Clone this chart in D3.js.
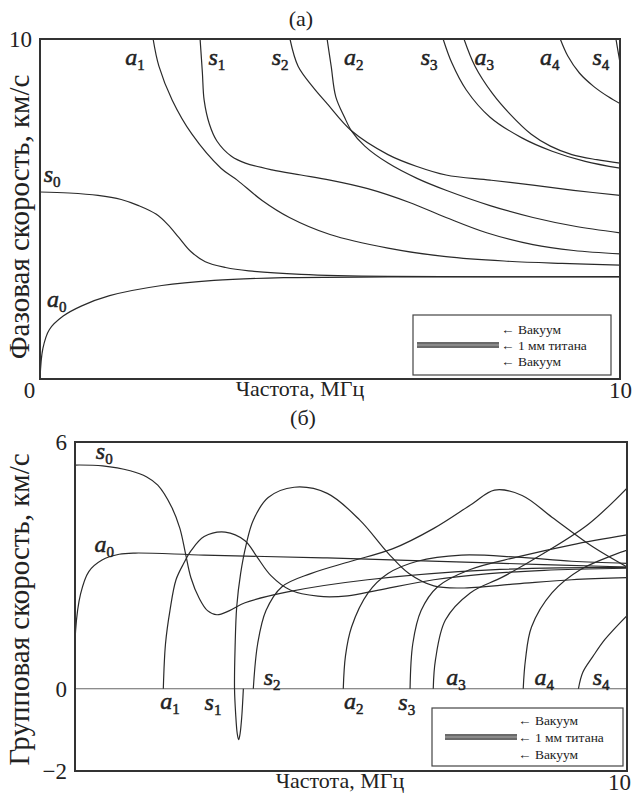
<!DOCTYPE html>
<html>
<head>
<meta charset="utf-8">
<script src="https://cdn.jsdelivr.net/npm/d3@7"></script>
<style>
  body { margin: 0; background: #fff; }
  svg text { font-family: "Liberation Serif", "DejaVu Serif", serif; fill: #222; }
</style>
</head>
<body>
<svg id="chart" width="641" height="801"></svg>
<script>
// ---- phase velocity (a), km/s vs MHz ----
const phA0 = [[0,0],[0.05,0.9],[0.16,1.45],[0.4,1.85],[0.72,2.15],[1.2,2.45],[2.1,2.75],[3,2.9],[4.2,2.98],[6,3.0],[10,3.0]]
const phS0 = [[0,5.5],[0.5,5.47],[1,5.4],[1.4,5.28],[1.7,5.1],[2.0,4.85],[2.2,4.55],[2.4,4.15],[2.6,3.75],[2.85,3.45],[3.2,3.28],[3.6,3.18],[4.5,3.08],[6,3.02],[10,3.01]]
const phA1 = [[1.95,10],[2.05,9.2],[2.28,8.2],[2.62,7.2],[3.12,6.2],[3.4,5.85],[3.83,5.25],[4.3,4.75],[5,4.25],[6,3.85],[7,3.6],[8,3.47],[9,3.4],[10,3.35]]
const phS1 = [[2.76,10],[2.8,9],[2.83,8.2],[2.92,7.5],[3.05,7.0],[3.3,6.55],[3.54,6.35],[4.0,6.15],[4.5,6.0],[5.0,5.85],[5.65,5.6],[6.36,5.2],[7,4.75],[7.7,4.3],[8.5,3.95],[9.2,3.78],[10,3.68]]
const phS2 = [[4.31,10],[4.45,9.2],[4.7,8.6],[4.95,8.1],[5.37,7.3],[6.0,6.6],[6.5,6.25],[7,6.0],[7.76,5.85],[8.5,5.7],[9.2,5.55],[10,5.4]]
const phA2 = [[4.95,10],[5.02,9.2],[5.1,8.3],[5.25,7.7],[5.37,7.3],[5.6,6.85],[6.0,6.35],[6.5,5.9],[7,5.55],[7.76,5.1],[8.5,4.75],[9.2,4.5],[10,4.3]]
const phS3 = [[6.95,10],[7.1,9.3],[7.35,8.5],[7.76,7.7],[8.3,7.1],[8.83,6.7],[9.4,6.4],[10,6.2]]
const phA3 = [[7.31,10],[7.5,9.2],[7.8,8.4],[8.1,7.8],[8.47,7.2],[8.8,6.85],[9.17,6.6],[9.6,6.45],[10,6.35]]
const phA4 = [[8.97,10],[9.1,9.5],[9.3,9.0],[9.55,8.6],[9.8,8.3],[10,8.1]]
const phS4 = [[9.93,10],[9.97,9.6],[10,9.3]]

// ---- group velocity (б) ----
const grS0 = [[0,5.44],[0.5,5.42],[1.0,5.3],[1.3,5.15],[1.5,4.95],[1.75,4.42],[1.9,3.9],[2.0,3.3],[2.1,2.7],[2.25,2.2],[2.4,1.9],[2.57,1.8],[2.8,1.9],[3.08,2.09],[3.83,2.35],[5.3,2.65],[7.53,2.89],[10,2.95]]
const grA0 = [[0,0],[0.01,1.4],[0.1,2.3],[0.25,2.85],[0.49,3.13],[0.8,3.27],[1.09,3.3],[2.34,3.25],[4.57,3.18],[7.5,3.06],[10,2.96]]
const grA1 = [[1.6,0],[1.64,1.1],[1.72,1.9],[1.83,2.65],[1.97,3.05],[2.1,3.35],[2.34,3.7],[2.72,3.81],[3.08,3.6],[3.3,3.2],[3.55,2.75],[3.9,2.4],[4.4,2.25],[4.94,2.26],[5.5,2.4],[6.5,2.65],[7.5,2.8],[8.5,2.88],[10,2.93]]
const grS1 = [[3.05,0],[3.02,-0.7],[2.99,-1.1],[2.965,-1.24],[2.94,-1.1],[2.91,-0.6],[2.89,0],[2.9,1.0],[2.93,2.0],[3.0,2.8],[3.1,3.5],[3.23,4.1],[3.5,4.65],[3.97,4.9],[4.57,4.75],[5.16,4.1],[5.67,3.3],[6.05,2.8],[6.5,2.5],[7,2.45],[8,2.55],[9,2.65],[10,2.7]]
const grS2 = [[3.23,0],[3.31,1.1],[3.46,1.9],[3.75,2.48],[4.27,2.8],[5,3.1],[5.75,3.4],[6.5,3.9],[7.2,4.5],[7.6,4.83],[8.1,4.7],[8.64,4.17],[9.38,3.45],[10,2.96]]
const grA2 = [[4.86,0],[4.9,0.8],[5.01,1.5],[5.31,2.33],[5.67,2.8],[6.2,3.1],[7,3.25],[8,3.2],[9,3.1],[10,3.05]]
const grS3 = [[6.07,0],[6.12,1.1],[6.27,1.9],[6.57,2.48],[7.16,2.9],[8,3.2],[9,3.5],[10,3.74]]
const grA3 = [[6.49,0],[6.53,0.7],[6.71,1.67],[7.16,2.33],[7.75,2.72],[8.5,3.3],[9.3,4.0],[10,4.88]]
const grA4 = [[8.12,0],[8.16,0.7],[8.27,1.5],[8.64,2.33],[9.16,2.9],[10,3.37]]
const grS4 = [[9.12,0],[9.2,0.4],[9.38,0.78],[9.6,1.2],[10,1.78]]

// mode labels: name, index, anchor (MHz, km/s)
const phLabels = [['a',1,1.64,9.44],['s',1,3.05,9.44],['s',2,4.14,9.44],['a',2,5.41,9.44],['s',3,6.71,9.44],['a',3,7.66,9.44],['a',4,8.79,9.44],['s',4,9.67,9.44],['s',0,0.21,6.0],['a',0,0.29,2.32]]
const grLabels = [['s',0,0.53,5.75],['a',0,0.53,3.5],['a',1,1.72,-0.32],['s',1,2.5,-0.34],['s',2,3.57,0.27],['a',2,5.05,-0.32],['s',3,6.01,-0.34],['a',3,6.9,0.27],['a',4,8.5,0.27],['s',4,9.53,0.27]]

const legendLines = ['Вакуум', '1 мм титана', 'Вакуум']

const svg = d3.select('#chart')

const drawPanel = function (cfg) {
    const x = d3.scaleLinear().domain([0, 10]).range([cfg.left, cfg.right])
    const y = d3.scaleLinear().domain(cfg.yDomain).range([cfg.bottom, cfg.top])
    const g = svg.append('g')

    const clipId = 'clip' + cfg.id
    g.append('clipPath').attr('id', clipId)
      .append('rect').attr('x', cfg.left).attr('y', cfg.top)
      .attr('width', cfg.right - cfg.left).attr('height', cfg.bottom - cfg.top)

    if (cfg.zeroLine) {
        g.append('line')
          .attr('x1', cfg.left).attr('x2', cfg.right)
          .attr('y1', y(0)).attr('y2', y(0))
          .attr('stroke', '#666').attr('stroke-width', 1)
    }

    const line = d3.line()
      .x(d => x(d[0])).y(d => y(d[1]))
      .curve(d3.curveCatmullRom.alpha(0.5))

    g.append('g').attr('clip-path', `url(#${clipId})`)
      .selectAll('path').data(cfg.curves).join('path')
      .attr('d', line)
      .attr('fill', 'none').attr('stroke', '#2a2a2a').attr('stroke-width', 1.2)

    // frame
    g.append('rect')
      .attr('x', cfg.left).attr('y', cfg.top)
      .attr('width', cfg.right - cfg.left).attr('height', cfg.bottom - cfg.top)
      .attr('fill', 'none').attr('stroke', '#333').attr('stroke-width', 2)

    // y ticks
    const yAx = g.append('g').attr('transform', `translate(${cfg.left},0)`)
      .call(d3.axisLeft(y).tickValues(cfg.yTicks).tickSize(0).tickPadding(8)
        .tickFormat(d => d < 0 ? '\u2212' + Math.abs(d) : d))
    yAx.select('.domain').remove()
    yAx.selectAll('text').attr('font-size', 23).attr('font-family', '"Liberation Serif", serif')
      .attr('fill', '#222')

    // x ticks
    const xAx = g.append('g').attr('transform', `translate(0,${cfg.bottom})`)
      .call(d3.axisBottom(x).tickValues(cfg.xTicks).tickSize(0).tickPadding(3))
    xAx.select('.domain').remove()
    xAx.selectAll('text').attr('font-size', 23).attr('font-family', '"Liberation Serif", serif')
      .attr('fill', '#222')
      .attr('dx', d => d === 0 ? -11 : cfg.xTickShift)

    // axis titles
    g.append('text')
      .attr('x', cfg.xTitleX).attr('y', cfg.bottom + 17)
      .attr('text-anchor', 'middle').attr('font-size', 22)
      .text('Частота, МГц')
    g.append('text')
      .attr('transform', `translate(${cfg.yTitleX},${(cfg.top + cfg.bottom) / 2 + cfg.yTitleShift}) rotate(-90)`)
      .attr('text-anchor', 'middle').attr('font-size', 29)
      .text(cfg.yTitle)
    g.append('text')
      .attr('x', cfg.panelX).attr('y', cfg.panelY)
      .attr('text-anchor', 'middle').attr('font-size', 22)
      .text(cfg.panel)

    // mode labels
    const lab = g.selectAll('.mode').data(cfg.labels).join('text')
      .attr('class', 'mode')
      .attr('x', d => x(d[2])).attr('y', d => y(d[3]))
      .attr('dy', '0.3em')
      .attr('text-anchor', 'middle')
      .attr('font-size', 24).attr('font-style', 'italic')
      .attr('stroke', '#222').attr('stroke-width', 0.5)
    lab.append('tspan').text(d => d[0])
    lab.append('tspan').attr('font-size', 15).attr('font-style', 'normal')
      .attr('dy', 5).text(d => d[1])

    // legend: plate sketch
    const L = cfg.legend
    const lg = g.append('g').attr('transform', `translate(${L.x},${L.y})`)
    lg.append('rect').attr('width', L.w).attr('height', L.h)
      .attr('fill', '#fff').attr('stroke', '#444').attr('stroke-width', 1.2)
    lg.append('rect').attr('x', L.barX).attr('y', L.h / 2 - 3)
      .attr('width', L.barW).attr('height', 6).attr('fill', '#6a6a6a')
    lg.append('line').attr('x1', L.barX).attr('x2', L.barX + L.barW)
      .attr('y1', L.h / 2).attr('y2', L.h / 2).attr('stroke', '#aaa').attr('stroke-width', 1)
    lg.selectAll('.lt').data(legendLines).join('text')
      .attr('class', 'lt')
      .attr('x', L.textX).attr('y', (d, i) => L.h / 2 + (i - 1) * L.step)
      .attr('dy', '0.35em').attr('font-size', 13.5)
      .text(d => '\u2190 ' + d)
}

drawPanel({
    id: 'a', left: 40, right: 620, top: 39, bottom: 379,
    yDomain: [0, 10], yTicks: [10], xTicks: [0, 10], xTickShift: 0,
    curves: [phA0, phS0, phA1, phS1, phS2, phA2, phS3, phA3, phA4, phS4],
    labels: phLabels, zeroLine: false,
    yTitle: 'Фазовая скорость, км/с', yTitleX: 29, yTitleShift: 8,
    xTitleX: 300, panel: '(a)', panelX: 301, panelY: 26,
    legend: { x: 413, y: 315, w: 198, h: 60, barX: 4, barW: 82, textX: 88, step: 16 }
})

drawPanel({
    id: 'b', left: 75, right: 627, top: 442, bottom: 771,
    yDomain: [-2, 6], yTicks: [6, 0, -2], xTicks: [10], xTickShift: -8,
    curves: [grS0, grA0, grA1, grS1, grS2, grA2, grS3, grA3, grA4, grS4],
    labels: grLabels, zeroLine: true,
    yTitle: 'Групповая скорость, км/с', yTitleX: 29, yTitleShift: 3,
    xTitleX: 340, panel: '(б)', panelX: 303, panelY: 425,
    legend: { x: 432, y: 708, w: 191, h: 58, barX: 13, barW: 72, textX: 86, step: 17 }
})
</script>
</body>
</html>
